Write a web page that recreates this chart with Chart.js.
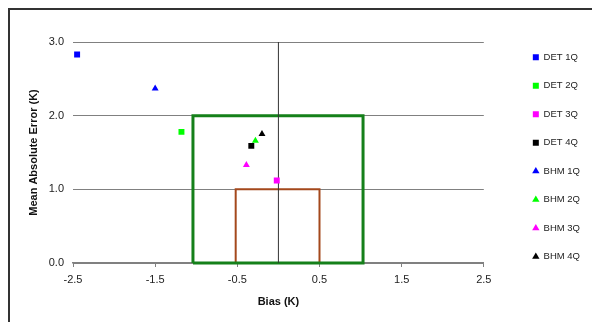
<!DOCTYPE html>
<html lang="en">
<head>
  <meta charset="UTF-8" />
  <title>Bias vs MAE</title>
  <script src="https://cdn.jsdelivr.net/npm/chart.js"></script>
  <style>
    body {
      margin: 0;
      background: #fff;
    }
    #wrap {
      position: relative;
      width: 592px;
      height: 322px;
      overflow: hidden;
    }
    #frame {
      position: absolute;
      left: 8px;
      top: 8px;
      width: 600px;
      height: 330px;
      border-top: 2px solid #333;
      border-left: 2px solid #333;
    }
    canvas {
      position: absolute;
      left: 0;
      top: 0;
    }
  </style>
</head>
<body>
  <div id="wrap">
    <div id="frame"></div>
    <canvas id="biasChart" width="592" height="322"></canvas>
  </div>

  <script>
    // series
    const seriesNames = ['DET 1Q', 'DET 2Q', 'DET 3Q', 'DET 4Q', 'BHM 1Q', 'BHM 2Q', 'BHM 3Q', 'BHM 4Q'];
    const biasValues = [-2.45, -1.18, -0.02, -0.33, -1.50, -0.28, -0.39, -0.20];
    const maeValues = [2.83, 1.78, 1.12, 1.59, 2.37, 1.66, 1.33, 1.75];

    // target boxes: [xMin, xMax, yMin, yMax]
    const outerBox = [-1.04, 1.03, 0, 2];
    const innerBox = [-0.52, 0.5, 0, 1];
    const zeroLine = [0, 0, 0, 3];

    const xTicks = [-2.5, -1.5, -0.5, 0.5, 1.5, 2.5];
    const yTicks = [0, 1, 2, 3];

    const colors = ['#0000ff', '#00ff00', '#ff00ff', '#000000', '#0000ff', '#00ff00', '#ff00ff', '#000000'];
    const shapes = ['rect', 'rect', 'rect', 'rect', 'triangle', 'triangle', 'triangle', 'triangle'];

    function boxPath(b) {
      return [
        { x: b[0], y: b[2] }, { x: b[0], y: b[3] }, { x: b[1], y: b[3] },
        { x: b[1], y: b[2] }, { x: b[0], y: b[2] }
      ];
    }

    const pointSets = seriesNames.map((name, i) => ({
      label: name,
      data: [{ x: biasValues[i], y: maeValues[i] }],
      backgroundColor: colors[i],
      borderColor: colors[i],
      borderWidth: 0,
      pointStyle: shapes[i],
      pointRadius: shapes[i] === 'rect' ? 4.2 : 4,
      pointHoverRadius: 4
    }));

    const lineSets = [
      { label: '_zero', data: [{ x: zeroLine[0], y: zeroLine[2] }, { x: zeroLine[1], y: zeroLine[3] }], borderColor: '#333', borderWidth: 1 },
      { label: '_outer', data: boxPath(outerBox), borderColor: '#15801a', borderWidth: 3 },
      { label: '_inner', data: boxPath(innerBox), borderColor: '#a4481c', borderWidth: 2 }
    ].map(d => Object.assign(d, { showLine: true, pointRadius: 0, pointHoverRadius: 0, fill: false, clip: 4, tension: 0 }));

    const ctx = document.getElementById('biasChart').getContext('2d');
    new Chart(ctx, {
      type: 'scatter',
      data: { datasets: pointSets.concat(lineSets) },
      options: {
        responsive: false,
        animation: false,
        layout: { padding: { left: 0, top: 33.5, right: 2, bottom: 0 } },
        plugins: {
          title: { display: true, text: '', padding: 0, font: { size: 8.5, lineHeight: 1 } },
          tooltip: { enabled: false },
          legend: {
            position: 'right',
            align: 'start',
            labels: {
              usePointStyle: true,
              boxWidth: 6,
              boxHeight: 6,
              padding: 19,
              color: '#222',
              font: { family: 'Arial, "Liberation Sans", sans-serif', size: 9.5 },
              filter: item => !item.text.startsWith('_')
            }
          }
        },
        scales: {
          x: {
            type: 'linear',
            min: -2.5,
            max: 2.5,
            afterBuildTicks: s => { s.ticks = xTicks.map(v => ({ value: v })); },
            afterFit: s => { s.height = 59; },
            grid: { display: true, drawOnChartArea: false, drawTicks: true, tickLength: 4, color: '#808080' },
            border: { display: true, color: '#808080', width: 1.5 },
            ticks: {
              padding: 6,
              color: '#222',
              font: { family: 'Arial, "Liberation Sans", sans-serif', size: 11 },
              callback: v => v.toFixed(1)
            },
            title: {
              display: true,
              text: 'Bias (K)',
              color: '#111',
              padding: { top: 0, bottom: 13 },
              font: { family: 'Arial, "Liberation Sans", sans-serif', size: 11, weight: 'bold' }
            }
          },
          y: {
            type: 'linear',
            min: 0,
            max: 3,
            afterBuildTicks: s => { s.ticks = yTicks.map(v => ({ value: v })); },
            afterFit: s => { s.width = 73; },
            grid: { color: '#808080', lineWidth: 1, drawTicks: false },
            border: { display: false },
            ticks: {
              padding: 9,
              color: '#222',
              font: { family: 'Arial, "Liberation Sans", sans-serif', size: 11 },
              callback: v => v.toFixed(1)
            },
            title: {
              display: true,
              text: 'Mean Absolute Error (K)',
              color: '#111',
              padding: { top: 27, bottom: 0 },
              font: { family: 'Arial, "Liberation Sans", sans-serif', size: 11, weight: 'bold' }
            }
          },
          gap: {
            type: 'linear',
            position: 'right',
            display: true,
            afterFit: s => { s.width = 30; },
            grid: { display: false, drawTicks: false },
            border: { display: false },
            ticks: { display: false }
          }
        }
      }
    });
  </script>
</body>
</html>
